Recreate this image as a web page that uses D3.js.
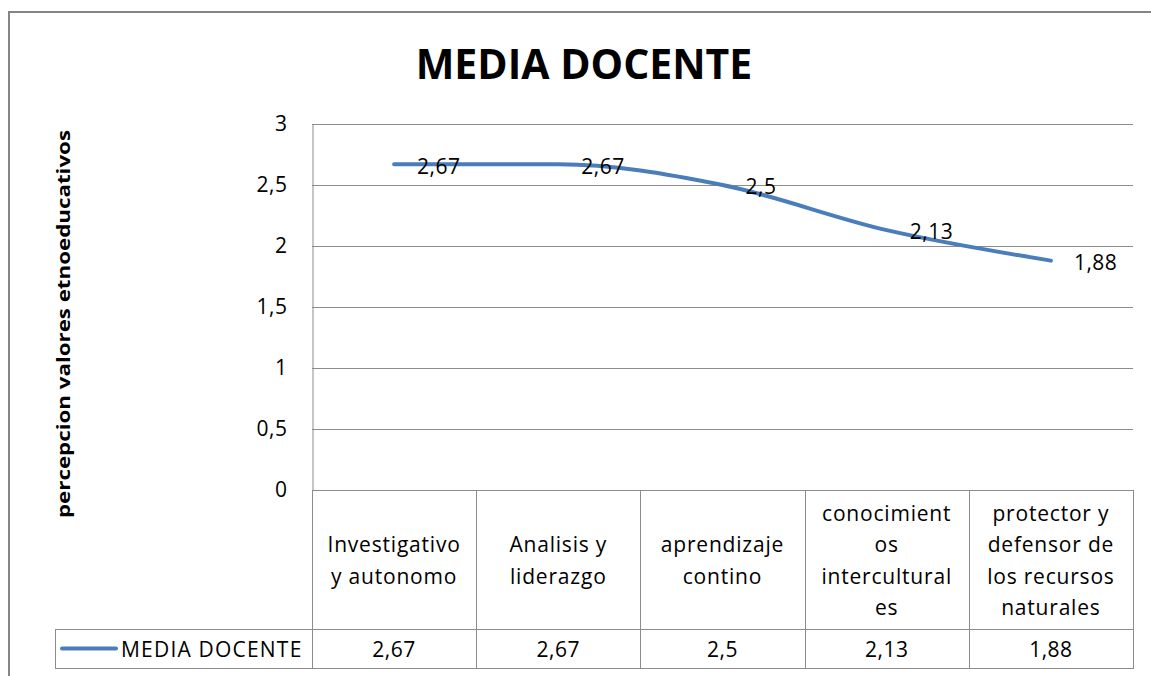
<!DOCTYPE html>
<html>
<head>
<meta charset="utf-8">
<script src="https://cdn.jsdelivr.net/npm/d3@7"></script>
<style>
  body { margin: 0; background: #fff; }
  text { font-family: "Open Sans", "Noto Sans", sans-serif; fill: #000; }
</style>
</head>
<body>
<div class="vis-linechart"></div>
<script>
const categories = [
  ['Investigativo', 'y autonomo'],
  ['Analisis y', 'liderazgo'],
  ['aprendizaje', 'contino'],
  ['conocimient', 'os', 'intercultural', 'es'],
  ['protector y', 'defensor de', 'los recursos', 'naturales'],
];
const values = [2.67, 2.67, 2.5, 2.13, 1.88];
const yTicks = [0, 0.5, 1, 1.5, 2, 2.5, 3];
const seriesName = 'MEDIA DOCENTE';
const chartTitle = 'MEDIA DOCENTE';
const yTitle = 'percepcion valores etnoeducativos';

const fmt = (v) => String(v).replace('.', ',');

const width = 1151;
const height = 676;
const plot = { left: 312, right: 1133, top: 124, bottom: 490 };
const table = { left: 55, headBottom: 629, bottom: 668 };
const gridColor = '#8c8c8c';
const lineColor = '#4a7ebb';

const svg = d3.select('.vis-linechart')
  .append('svg')
  .attr('width', width)
  .attr('height', height);

// chart border
svg.append('rect')
  .attr('x', 9).attr('y', 12)
  .attr('width', width + 20).attr('height', height + 20)
  .attr('fill', 'none')
  .attr('stroke', '#858585')
  .attr('stroke-width', 2);

const x = d3.scaleBand()
  .domain(d3.range(values.length))
  .range([plot.left, plot.right]);

const y = d3.scaleLinear()
  .domain([0, 3])
  .range([plot.bottom, plot.top]);

// gridlines
svg.append('g')
  .selectAll('line')
  .data(yTicks)
  .enter()
  .append('line')
  .attr('x1', plot.left)
  .attr('x2', plot.right)
  .attr('y1', (d) => Math.round(y(d)) + 0.5)
  .attr('y2', (d) => Math.round(y(d)) + 0.5)
  .attr('stroke', gridColor)
  .attr('stroke-width', 1);

// y axis
const yAxis = svg.append('g')
  .attr('transform', `translate(${plot.left + 0.5},0)`)
  .call(d3.axisLeft(y).tickValues(yTicks).tickFormat(fmt).tickSize(0).tickPadding(25));
yAxis.select('.domain').attr('stroke', gridColor);
yAxis.selectAll('text')
  .style('font-family', '"Open Sans", sans-serif')
  .style('font-size', '21px')
  .style('letter-spacing', '0.5px')
  .attr('dy', '0.3em')
  .attr('fill', '#222');

// y title
svg.append('text')
  .attr('transform', 'translate(70,324) rotate(-90)')
  .attr('text-anchor', 'middle')
  .attr('textLength', 388)
  .attr('lengthAdjust', 'spacingAndGlyphs')
  .style('font-size', '18px')
  .style('font-weight', 'bold')
  .text(yTitle);

// chart title
svg.append('text')
  .attr('x', 584)
  .attr('y', 79)
  .attr('text-anchor', 'middle')
  .style('font-size', '41px')
  .style('font-weight', 'bold')
  .text(chartTitle);

// data table
const tbl = svg.append('g');
const cellEdges = d3.range(values.length + 1).map((i) => (i < values.length ? x(i) : plot.right));
tbl.selectAll('line.v')
  .data(cellEdges)
  .enter()
  .append('line')
  .attr('class', 'v')
  .attr('x1', (d) => Math.round(d) + 0.5)
  .attr('x2', (d) => Math.round(d) + 0.5)
  .attr('y1', plot.bottom)
  .attr('y2', table.bottom)
  .attr('stroke', gridColor);
tbl.append('line')
  .attr('x1', table.left + 0.5).attr('x2', table.left + 0.5)
  .attr('y1', table.headBottom).attr('y2', table.bottom)
  .attr('stroke', gridColor);
[table.headBottom, table.bottom].forEach((yy) => {
  tbl.append('line')
    .attr('x1', table.left).attr('x2', plot.right + 1)
    .attr('y1', yy + 0.5).attr('y2', yy + 0.5)
    .attr('stroke', gridColor);
});

// category headers
const lineH = 31.5;
const headMid = (plot.bottom + table.headBottom) / 2 + 1;
tbl.selectAll('text.cat')
  .data(categories)
  .enter()
  .append('text')
  .attr('class', 'cat')
  .attr('text-anchor', 'middle')
  .style('font-size', '21px')
  .style('letter-spacing', '0.8px')
  .attr('fill', '#222')
  .each(function (lines, i) {
    const t = d3.select(this);
    lines.forEach((ln, j) => {
      t.append('tspan')
        .attr('x', x(i) + x.bandwidth() / 2)
        .attr('y', headMid + (j - (lines.length - 1) / 2) * lineH)
        .attr('dy', '0.35em')
        .text(ln);
    });
  });

// value row
const rowMid = (table.headBottom + table.bottom) / 2 + 1;
tbl.selectAll('text.val')
  .data(values)
  .enter()
  .append('text')
  .attr('class', 'val')
  .attr('x', (d, i) => x(i) + x.bandwidth() / 2)
  .attr('y', rowMid)
  .attr('dy', '0.35em')
  .attr('text-anchor', 'middle')
  .style('font-size', '21px')
  .style('letter-spacing', '0.5px')
  .text(fmt);

// legend key in table
tbl.append('line')
  .attr('x1', 62).attr('x2', 116)
  .attr('y1', rowMid - 1).attr('y2', rowMid - 1)
  .attr('stroke', lineColor)
  .attr('stroke-width', 4)
  .attr('stroke-linecap', 'round');
tbl.append('text')
  .attr('x', 121)
  .attr('y', rowMid)
  .attr('dy', '0.35em')
  .style('font-size', '21px')
  .style('letter-spacing', '1.2px')
  .attr('fill', '#222')
  .text(seriesName);

// series line
const line = d3.line()
  .x((d, i) => x(i) + x.bandwidth() / 2)
  .y((d) => y(d))
  .curve(d3.curveMonotoneX);

svg.append('path')
  .datum(values)
  .attr('d', line)
  .attr('fill', 'none')
  .attr('stroke', lineColor)
  .attr('stroke-width', 4)
  .attr('stroke-linecap', 'round');

// data labels
svg.selectAll('text.lbl')
  .data(values)
  .enter()
  .append('text')
  .attr('class', 'lbl')
  .attr('x', (d, i) => x(i) + x.bandwidth() / 2 + 23)
  .attr('y', (d) => y(d) + 2)
  .attr('dy', '0.35em')
  .style('font-size', '21px')
  .style('letter-spacing', '0.5px')
  .text(fmt);
</script>
</body>
</html>
